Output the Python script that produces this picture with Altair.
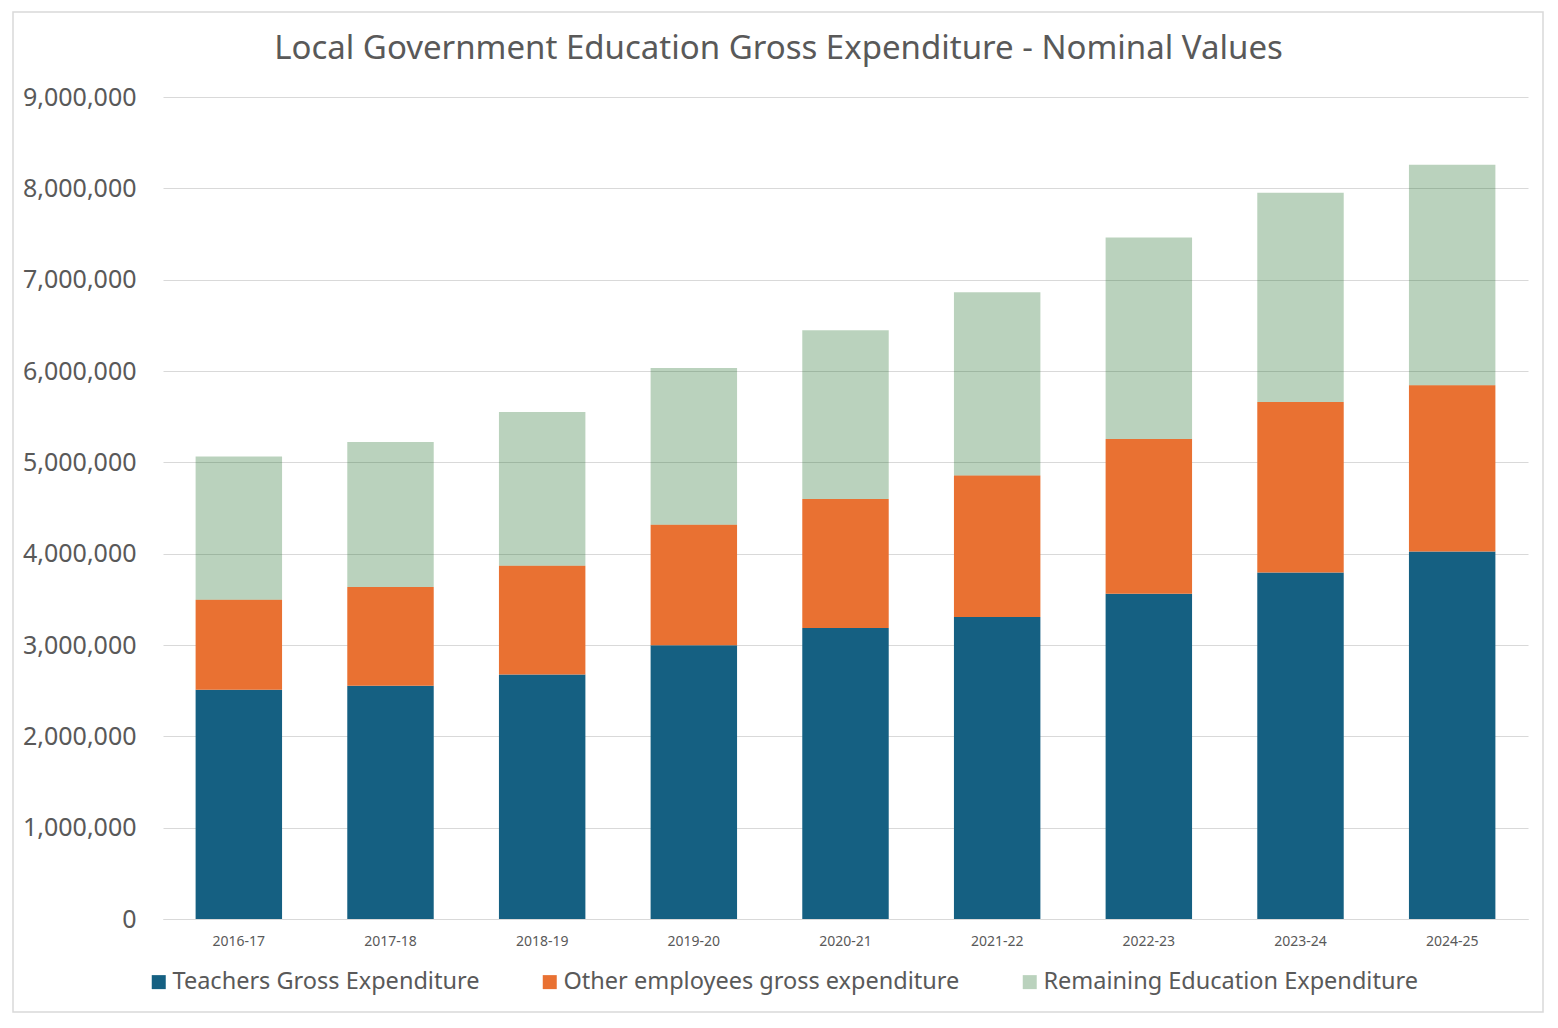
import altair as alt
import pandas as pd

years = ["2016-17", "2017-18", "2018-19", "2019-20", "2020-21",
         "2021-22", "2022-23", "2023-24", "2024-25"]
teachers = [2511000, 2555000, 2678000, 2996000, 3186000, 3307000, 3562000, 3795000, 4025000]
other = [985000, 1080000, 1190000, 1321000, 1413000, 1550000, 1694000, 1866000, 1818000]
remaining = [1569000, 1588000, 1683000, 1716000, 1846000, 2004000, 2207000, 2291000, 2416000]

series = ["Teachers Gross Expenditure", "Other employees gross expenditure",
          "Remaining Education Expenditure"]
colors = ["#156082", "#E97132", "rgba(25,107,36,0.3)"]
y_ticks = [0, 1000000, 2000000, 3000000, 4000000, 5000000, 6000000, 7000000, 8000000, 9000000]

rows = []
for i, yr in enumerate(years):
    for k, (name, vals) in enumerate(zip(series, [teachers, other, remaining])):
        rows.append({"year": yr, "series": name, "value": vals[i], "order": k})
df = pd.DataFrame(rows)

FONT = "Noto Sans"
GREY = "#595959"

bars = alt.Chart(df).mark_bar().encode(
    x=alt.X("year:N", sort=years, title=None,
            scale=alt.Scale(paddingInner=0.43, paddingOuter=0.215),
            axis=alt.Axis(labelAngle=0, labelFontSize=14, labelColor=GREY, labelFont=FONT,
                          domainColor="#d9d9d9", domainWidth=1, ticks=False, labelPadding=15,
                          grid=False)),
    y=alt.Y("value:Q", stack="zero", title=None,
            scale=alt.Scale(domain=[0, 9000000], nice=False),
            axis=alt.Axis(values=y_ticks, format=",d", labelFontSize=25, labelColor=GREY,
                          labelFont=FONT, domain=False, ticks=False, labelPadding=27,
                          gridColor="#d9d9d9", gridWidth=1)),
    color=alt.Color("series:N", sort=series, title=None,
                    scale=alt.Scale(domain=series, range=colors),
                    legend=alt.Legend(orient="none", direction="horizontal",
                                      legendX=-16, legendY=873,
                                      symbolType="square", symbolSize=196, symbolStrokeWidth=0,
                                      labelFontSize=23.5, labelColor=GREY, labelFont=FONT,
                                      labelLimit=600, columnPadding=58, labelOffset=2)),
    order=alt.Order("order:Q"),
)

border = alt.Chart(pd.DataFrame({"b": [0]})).mark_rect(
    fill="transparent", stroke="#d9d9d9", strokeWidth=1.5
).encode(
    x=alt.value(-150), x2=alt.value(1380), y=alt.value(-85), y2=alt.value(915)
)

chart = alt.layer(bars, border).properties(
    width=1365, height=822,
    background="white",
    title=alt.TitleParams("Local Government Education Gross Expenditure - Nominal Values",
                          fontSize=33, font=FONT, color=GREY, fontWeight="normal",
                          anchor="middle", dx=-67, offset=-81, baseline="alphabetic"),
    autosize=alt.AutoSizeParams(type="none"),
    padding={"left": 155, "top": 89, "right": 20, "bottom": 100},
).configure_view(strokeWidth=0, stroke="transparent")

chart.save("out.html", embed_options={"renderer": "svg", "actions": False})
